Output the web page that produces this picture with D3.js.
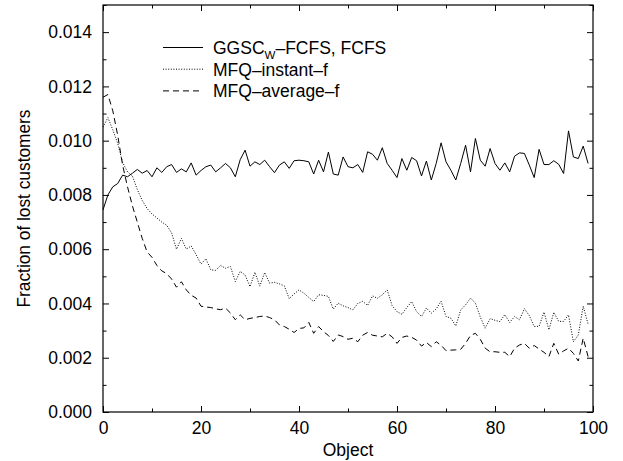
<!DOCTYPE html>
<html>
<head>
<meta charset="utf-8">
<script src="https://cdn.jsdelivr.net/npm/d3@7"></script>
<style>
  body { margin: 0; background: #fff; }
  svg { display: block; font-family: "Liberation Sans", Arial, sans-serif; }
  .axis path { display: none; }
  .axis line { stroke: #000; stroke-width: 1; }
  .axis text { font-size: 17.5px; fill: #000; }
</style>
</head>
<body>
<svg id="chart" width="623" height="461"></svg>
<script>
// one value per object, 0..99
var GGSC = [0.00745, 0.0080, 0.0083, 0.00842, 0.00873, 0.00867, 0.0088, 0.00894, 0.0088, 0.0089,
  0.00867, 0.0090, 0.00883, 0.00904, 0.00912, 0.00883, 0.00896, 0.00885, 0.00918, 0.00873,
  0.0089, 0.00904, 0.0091, 0.00885, 0.0090, 0.00916, 0.0090, 0.00867, 0.0093, 0.00965,
  0.00906, 0.00922, 0.00912, 0.00928, 0.00904, 0.00882, 0.0091, 0.00922, 0.00898, 0.00926,
  0.00928, 0.00926, 0.00922, 0.00877, 0.00928, 0.00885, 0.00958, 0.00877, 0.00873, 0.0094,
  0.00904, 0.0090, 0.00912, 0.00883, 0.00959, 0.0095, 0.00928, 0.00974, 0.00916, 0.00891,
  0.00864, 0.00934, 0.00891, 0.00938, 0.00926, 0.0087, 0.00925, 0.00855, 0.00916, 0.00992,
  0.00922, 0.00891, 0.00855, 0.00916, 0.00983, 0.00885, 0.01008, 0.00928, 0.00906, 0.00971,
  0.00916, 0.00891, 0.00918, 0.00885, 0.00943, 0.00955, 0.00953, 0.0091, 0.00864, 0.00968,
  0.00912, 0.00912, 0.00926, 0.00913, 0.00879, 0.01036, 0.0094, 0.00934, 0.0098, 0.00916];

var MFQ_INSTANT = [0.0105, 0.01085, 0.0104, 0.0099, 0.0092, 0.00885, 0.0087, 0.0082, 0.0078, 0.0075,
  0.0073, 0.00715, 0.0070, 0.00688, 0.0066, 0.0060, 0.0064, 0.0060, 0.00612, 0.0058,
  0.00545, 0.00565, 0.00524, 0.00522, 0.0054, 0.0053, 0.00536, 0.00481, 0.00518, 0.00505,
  0.00462, 0.00515, 0.00464, 0.00514, 0.00475, 0.00478, 0.00472, 0.00465, 0.00418, 0.00435,
  0.0045, 0.00438, 0.00422, 0.00407, 0.00432, 0.0043, 0.00426, 0.00379, 0.00401, 0.00391,
  0.00385, 0.00376, 0.0040, 0.00408, 0.00393, 0.00428, 0.00419, 0.00432, 0.0045, 0.00392,
  0.0037, 0.0036, 0.00385, 0.00407, 0.0037, 0.00352, 0.00383, 0.00364, 0.0038, 0.00408,
  0.00352, 0.00346, 0.00317, 0.00376, 0.00395, 0.0042, 0.00401, 0.0035, 0.00309, 0.00344,
  0.00338, 0.00333, 0.00359, 0.0033, 0.00352, 0.0034, 0.00381, 0.00355, 0.00315, 0.00316,
  0.00368, 0.00303, 0.00367, 0.00334, 0.00334, 0.00358, 0.00259, 0.00284, 0.0039, 0.00324];

var MFQ_AVERAGE = [0.0116, 0.0117, 0.0111, 0.0102, 0.0091, 0.0083, 0.0076, 0.0070, 0.0064, 0.0059,
  0.0057, 0.0054, 0.0052, 0.0051, 0.0049, 0.0046, 0.0048, 0.0045, 0.0043, 0.0042,
  0.0039, 0.00387, 0.00385, 0.0038, 0.00377, 0.00383, 0.00365, 0.0034, 0.00358, 0.0034,
  0.00345, 0.00348, 0.00352, 0.00354, 0.00348, 0.0034, 0.00321, 0.00315, 0.00305, 0.00293,
  0.00308, 0.0031, 0.0033, 0.0029, 0.00315, 0.00296, 0.00282, 0.0026, 0.00284, 0.00278,
  0.00268, 0.00272, 0.00259, 0.00283, 0.00293, 0.00283, 0.0028, 0.00277, 0.0029, 0.00277,
  0.00253, 0.00275, 0.0028, 0.00275, 0.00265, 0.00243, 0.00256, 0.00241, 0.00259, 0.00246,
  0.00226, 0.00228, 0.00229, 0.00231, 0.00253, 0.00282, 0.0029, 0.00268, 0.00235, 0.00222,
  0.00222, 0.0022, 0.0022, 0.00204, 0.00235, 0.00247, 0.00253, 0.00235, 0.00245, 0.00232,
  0.0022, 0.00204, 0.00253, 0.00213, 0.00225, 0.00235, 0.00216, 0.00188, 0.00272, 0.00204];

var X_TICKS = [0, 20, 40, 60, 80, 100];
var X_MINOR = [10, 30, 50, 70, 90];
var Y_TICKS = [0, 0.002, 0.004, 0.006, 0.008, 0.010, 0.012, 0.014];
var Y_MINOR = [0.001, 0.003, 0.005, 0.007, 0.009, 0.011, 0.013, 0.015];

var SERIES_NAMES = ["GGSC", "MFQ\u2013instant\u2013f", "MFQ\u2013average\u2013f"];
var DASHES = [null, "1,1.6", "6,4"];

var margin = {left: 103, right: 30, top: 5, bottom: 49};
var width = 623, height = 461;
var FONT = "17.5px";

var svg = d3.select("#chart");

var xScale = d3.scaleLinear().domain([0, 100]).range([margin.left, width - margin.right]);
var yScale = d3.scaleLinear().domain([0, 0.015]).range([height - margin.bottom, margin.top]);

// frame
svg.append("rect")
  .attr("x", margin.left).attr("y", margin.top)
  .attr("width", xScale(100) - xScale(0))
  .attr("height", yScale(0) - yScale(0.015))
  .attr("fill", "none").attr("stroke", "#000").attr("stroke-width", 1.2);

// axes with inward ticks on all four sides
function addAxis(axis, tx, ty) {
  svg.append("g").attr("class", "axis")
    .attr("transform", "translate(" + tx + "," + ty + ")")
    .call(axis);
}

addAxis(d3.axisBottom(xScale).tickValues(X_TICKS).tickSize(-6).tickPadding(10).tickFormat(d3.format("d")), 0, yScale(0));
addAxis(d3.axisBottom(xScale).tickValues(X_MINOR).tickSize(-3.5).tickFormat(""), 0, yScale(0));
addAxis(d3.axisTop(xScale).tickValues(X_TICKS).tickSize(-6).tickFormat(""), 0, margin.top);
addAxis(d3.axisTop(xScale).tickValues(X_MINOR).tickSize(-3.5).tickFormat(""), 0, margin.top);

addAxis(d3.axisLeft(yScale).tickValues(Y_TICKS).tickSize(-6).tickPadding(11).tickFormat(d3.format(".3f")), margin.left, 0);
addAxis(d3.axisLeft(yScale).tickValues(Y_MINOR).tickSize(-3.5).tickFormat(""), margin.left, 0);
addAxis(d3.axisRight(yScale).tickValues(Y_TICKS).tickSize(-6).tickFormat(""), xScale(100), 0);
addAxis(d3.axisRight(yScale).tickValues(Y_MINOR).tickSize(-3.5).tickFormat(""), xScale(100), 0);

// axis titles
svg.append("text")
  .attr("x", (xScale(0) + xScale(100)) / 2)
  .attr("y", 456)
  .attr("text-anchor", "middle")
  .style("font-size", FONT)
  .text("Object");

// y title is squeezed a bit along its length in the original
svg.append("text")
  .attr("transform", "translate(30," + ((yScale(0) + yScale(0.015)) / 2) + ") rotate(-90)")
  .attr("text-anchor", "middle")
  .attr("textLength", 198)
  .attr("lengthAdjust", "spacingAndGlyphs")
  .style("font-size", FONT)
  .text("Fraction of lost customers");

// lines
var line = d3.line()
  .x(function (d, i) { return xScale(i); })
  .y(function (d) { return yScale(d); });

var allSeries = [GGSC, MFQ_INSTANT, MFQ_AVERAGE];

svg.selectAll(".series")
  .data(allSeries)
  .enter()
  .append("path")
  .attr("class", "series")
  .attr("d", line)
  .attr("fill", "none")
  .attr("stroke", "#000")
  .attr("stroke-width", 1)
  .attr("stroke-dasharray", function (d, i) { return DASHES[i]; });

// legend
var legendY = [47.5, 69.2, 90.9];
var legend = svg.append("g");

legend.selectAll("line")
  .data(DASHES)
  .enter()
  .append("line")
  .attr("x1", 163).attr("x2", 203)
  .attr("y1", function (d, i) { return legendY[i]; })
  .attr("y2", function (d, i) { return legendY[i]; })
  .attr("stroke", "#000")
  .attr("stroke-width", 1)
  .attr("stroke-dasharray", function (d) { return d; });

var t0 = legend.append("text")
  .attr("x", 213).attr("y", legendY[0] + 6.5)
  .style("font-size", FONT);
t0.append("tspan").text("GGSC");
t0.append("tspan").attr("dy", 4.5).style("font-size", "11.5px").text("W");
t0.append("tspan").attr("dy", -4.5).text("\u2013FCFS, FCFS");

legend.selectAll("text.lbl")
  .data(SERIES_NAMES.slice(1))
  .enter()
  .append("text")
  .attr("class", "lbl")
  .attr("x", 213)
  .attr("y", function (d, i) { return legendY[i + 1] + 6.5; })
  .style("font-size", FONT)
  .text(function (d) { return d; });
</script>
</body>
</html>
